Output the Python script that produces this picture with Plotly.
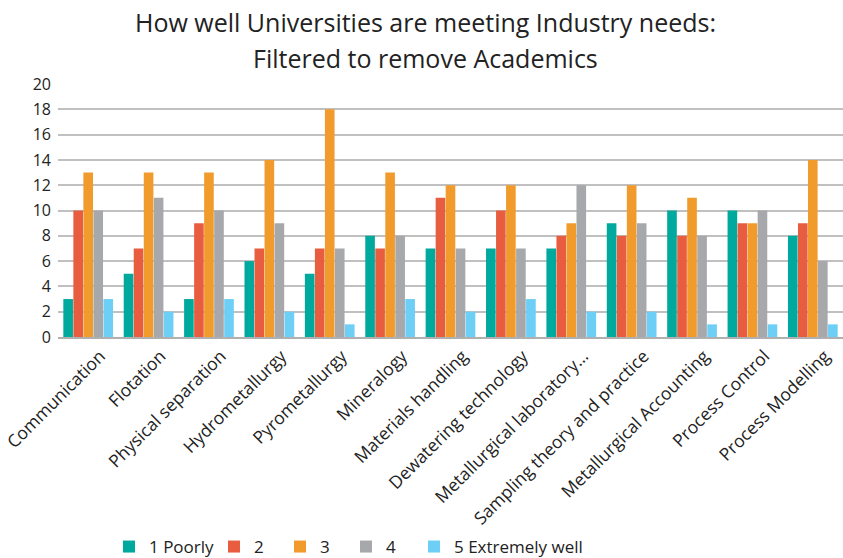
import plotly.graph_objects as go

categories = ["Communication", "Flotation", "Physical separation", "Hydrometallurgy",
              "Pyrometallurgy", "Mineralogy", "Materials handling", "Dewatering technology",
              "Metallurgical laboratory…", "Sampling theory and practice",
              "Metallurgical Accounting", "Process Control", "Process Modelling"]
poorly = [3, 5, 3, 6, 5, 8, 7, 7, 7, 9, 10, 10, 8]
two = [10, 7, 9, 7, 7, 7, 11, 10, 8, 8, 8, 9, 9]
three = [13, 13, 13, 14, 18, 13, 12, 12, 9, 12, 11, 9, 14]
four = [10, 11, 10, 9, 7, 8, 7, 7, 12, 9, 8, 10, 6]
extremely = [3, 2, 3, 2, 1, 3, 2, 3, 2, 2, 1, 1, 1]
title_lines = ["How well Universities are meeting Industry needs:", "Filtered to remove Academics"]

series = [("1 Poorly", poorly, "#00A99D"), ("2", two, "#E85D40"), ("3", three, "#F09B2C"),
          ("4", four, "#A7A8AB"), ("5 Extremely well", extremely, "#6DCFF6")]

L, T, W, H = 58, 84, 785, 253
legend_px = [129, 234, 300, 366, 434]  # symbol centres in pixels

font = "Open Sans, Noto Sans, sans-serif"
fig = go.Figure()
layout_legends = {}
for i, (name, vals, col) in enumerate(series):
    key = "legend" if i == 0 else f"legend{i+1}"
    fig.add_trace(go.Bar(x=categories, y=vals, name=name, marker_color=col,
                         marker_line_width=0, legend=key))
    layout_legends[key] = dict(orientation="h", x=(legend_px[i] - 20 - L) / W, xanchor="left",
                               y=-(547 - (T + H)) / H, yanchor="middle", bgcolor="rgba(0,0,0,0)",
                               font=dict(family=font, size=17, color="#222"))

annotations = []
for line, ypx in zip(title_lines, [22, 58]):
    annotations.append(dict(text=line, xref="paper", yref="paper", x=(425 - L) / W,
                            y=1 + (T - ypx) / H, xanchor="center", yanchor="middle",
                            showarrow=False, font=dict(family=font, size=25, color="#222")))

fig.update_layout(
    width=843, height=558,
    margin=dict(l=L, r=843 - L - W, t=T, b=558 - T - H, autoexpand=False),
    paper_bgcolor="white", plot_bgcolor="white",
    barmode="group", bargap=0.17, bargroupgap=0.04,
    font=dict(family=font, size=14, color="#222"),
    xaxis=dict(tickangle=-45, showgrid=False, showline=True, linecolor="#b0b0b0", linewidth=2,
               tickfont=dict(size=17.5, color="#222"), ticks="", automargin=False,
               ticklabelshift=12, ticklabelstandoff=0),
    yaxis=dict(range=[0, 20], dtick=2, showgrid=True, gridcolor="#c0c0c0", gridwidth=1.5,
               zeroline=False, tickfont=dict(size=16, color="#222"), ticks="",
               ticklabelstandoff=6, automargin=False),
    showlegend=True,
    annotations=annotations,
    **layout_legends,
)
fig.write_html("out.html")
